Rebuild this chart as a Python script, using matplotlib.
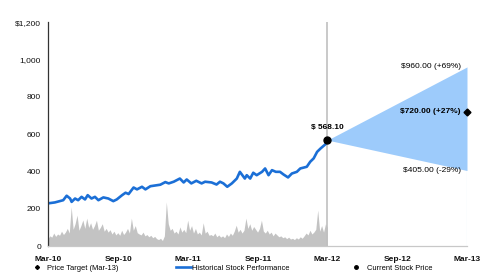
import pandas as pd
import matplotlib
matplotlib.use('Agg')
import matplotlib.pyplot as plt
import matplotlib.dates as mdates
from matplotlib.lines import Line2D
from matplotlib.ticker import FuncFormatter

plt.rcParams['font.family'] = ['Liberation Sans', 'DejaVu Sans']

# historical closing price
price_dates = ['2010-03-01', '2010-03-19', '2010-04-10', '2010-04-19', '2010-04-28', '2010-05-02',
               '2010-05-11', '2010-05-19', '2010-05-28', '2010-06-06', '2010-06-13', '2010-06-23',
               '2010-07-02', '2010-07-11', '2010-07-24', '2010-08-06', '2010-08-19', '2010-08-28',
               '2010-09-11', '2010-09-20', '2010-09-28', '2010-10-11', '2010-10-20', '2010-11-02',
               '2010-11-11', '2010-11-24', '2010-12-20', '2011-01-02', '2011-01-11', '2011-01-24',
               '2011-02-09', '2011-02-19', '2011-02-27', '2011-03-11', '2011-03-24', '2011-04-07',
               '2011-04-16', '2011-05-03', '2011-05-16', '2011-05-25', '2011-06-03', '2011-06-13',
               '2011-06-25', '2011-07-08', '2011-07-16', '2011-07-29', '2011-08-03', '2011-08-12',
               '2011-08-20', '2011-08-29', '2011-09-12', '2011-09-20', '2011-09-29', '2011-10-08',
               '2011-10-18', '2011-10-29', '2011-11-07', '2011-11-19', '2011-11-29', '2011-12-12',
               '2011-12-21', '2012-01-07', '2012-01-16', '2012-01-25', '2012-02-03', '2012-02-12',
               '2012-02-25', '2012-03-01']
price = [229, 234, 246, 270, 255, 237,
         255, 246, 264, 250, 273, 255,
         264, 246, 261, 255, 241, 250,
         273, 286, 279, 314, 304, 318,
         304, 321, 329, 343, 336, 345,
         362, 341, 357, 336, 350, 336,
         345, 341, 330, 345, 336, 318,
         336, 362, 398, 362, 380, 362,
         393, 380, 398, 416, 380, 407,
         398, 398, 384, 368, 389, 398,
         416, 425, 452, 470, 505, 523,
         546, 568.10]

# trading volume, grey area on the same scale (about six readings a month)
volume = [40, 55, 48, 70, 52, 65,
          58, 80, 62, 75, 95, 70,
          211, 90, 120, 166, 85, 110,
          140, 95, 150, 100, 125, 90,
          110, 139, 85, 100, 120, 80,
          95, 75, 88, 65, 80, 60,
          72, 58, 85, 62, 75, 95,
          70, 150, 85, 110, 72, 65,
          60, 75, 55, 62, 50, 58,
          45, 52, 40, 35, 42, 30,
          55, 237, 120, 85, 95, 70,
          80, 65, 103, 75, 90, 72,
          139, 85, 110, 70, 95, 65,
          75, 60, 125, 70, 80, 58,
          62, 55, 70, 50, 60, 48,
          55, 45, 65, 52, 70, 58,
          80, 112, 75, 90, 70, 85,
          150, 95, 120, 85, 105, 90,
          75, 95, 139, 80, 70, 85,
          65, 75, 55, 70, 60, 50,
          55, 45, 50, 40, 48, 38,
          42, 35, 45, 38, 50, 42,
          55, 70, 60, 85, 65, 75,
          90, 193, 80, 110, 75, 120,
          100]

current_date = '2012-03-01'
current_price = 568.10
target_date = '2013-03-01'
target_high = 960.0
target_mid = 720.0
target_low = 405.0
target_labels = ['$960.00 (+69%)', '$720.00 (+27%)', '$405.00 (-29%)']
legend_labels = ['Price Target (Mar-13)', 'Historical Stock Performance', 'Current Stock Price']

price_dates = pd.to_datetime(price_dates)
vol_dates = pd.date_range('2010-03-01', '2012-03-01', periods=len(volume))
cur = pd.Timestamp(current_date)
tgt = pd.Timestamp(target_date)

blue = '#1b6fd6'

fig = plt.figure(figsize=(4.89, 2.80), dpi=100)
ax = fig.add_axes([0.098, 0.121, 0.857, 0.80])

ax.fill_between(vol_dates, 0, volume, color='#c3c3c3', linewidth=0)
ax.plot(price_dates, price, color=blue, linewidth=1.9)

# forecast fan
ax.fill_between([cur, tgt], [current_price, target_low], [current_price, target_high],
                color='#9dcbfb', linewidth=0)
ax.plot([tgt, tgt], [0, target_low], color='#c5def8', linewidth=0.8)
ax.axvline(cur, color='#c0c0c0', linewidth=1.2, zorder=1)

ax.plot([cur], [current_price], 'o', color='black', markersize=5, zorder=5, clip_on=False)
ax.plot([tgt], [target_mid], 'D', color='black', markersize=3.5, zorder=5, clip_on=False)

ax.annotate('$ 568.10', (cur, current_price), xytext=(0, 9), textcoords='offset points',
            ha='center', va='center', fontsize=6, fontweight='bold')
ax.annotate(target_labels[0], (tgt, target_high), xytext=(-4, 0), textcoords='offset points',
            ha='right', va='center', fontsize=6)
ax.annotate(target_labels[1], (tgt, target_mid), xytext=(-5, 0), textcoords='offset points',
            ha='right', va='center', fontsize=6, fontweight='bold')
ax.annotate(target_labels[2], (tgt, target_low), xytext=(-4, 0), textcoords='offset points',
            ha='right', va='center', fontsize=6)

ax.set_xlim(pd.Timestamp('2010-03-01'), tgt)
ax.set_ylim(0, 1200)
ax.set_yticks(range(0, 1201, 200))
ax.yaxis.set_major_formatter(FuncFormatter(lambda v, p: '$1,200' if v == 1200 else f'{int(v):,}'))
ax.set_xticks(pd.date_range('2010-03-01', '2013-03-01', freq='6MS'))
ax.xaxis.set_major_formatter(mdates.DateFormatter('%b-%y'))
ax.tick_params(axis='both', length=0, labelsize=6, colors='#111111')
ax.tick_params(axis='y', pad=5)
ax.tick_params(axis='x', pad=7)
for lbl in ax.get_xticklabels():
    lbl.set_fontweight('bold')

for s in ['top', 'right']:
    ax.spines[s].set_visible(False)
ax.spines['left'].set_color('#333333')
ax.spines['left'].set_linewidth(0.9)
ax.spines['bottom'].set_color('#c8c8c8')
ax.spines['bottom'].set_linewidth(0.9)

# legend: three single entries placed along the bottom
handles = [Line2D([], [], marker='D', color='black', linestyle='none', markersize=2),
           Line2D([], [], color=blue, linewidth=1.9),
           Line2D([], [], marker='o', color='black', linestyle='none', markersize=2.5)]
lx = [0.060, 0.360, 0.713]
for h, lab, x0 in zip(handles, legend_labels, lx):
    fig.legend([h], [lab], loc='center left', bbox_to_anchor=(x0, 0.043), frameon=False,
               fontsize=5.4, handlelength=2.0, handletextpad=0.15 if h is handles[1] else 0.4,
               borderpad=0, borderaxespad=0)

fig.savefig('out.png', dpi=100)
